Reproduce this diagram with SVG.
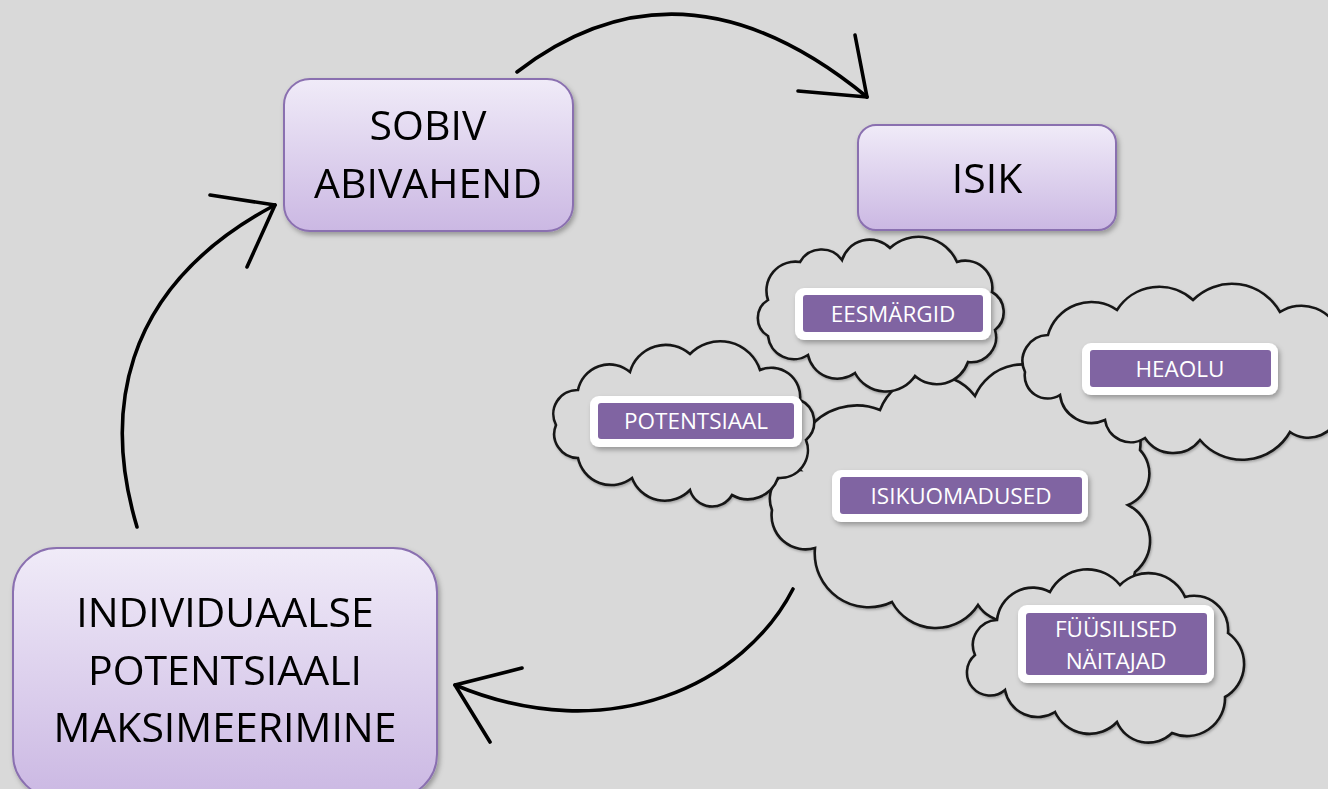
<svg xmlns="http://www.w3.org/2000/svg" width="1328" height="789" viewBox="0 0 1328 789">
<defs>
<linearGradient id="boxg" x1="0" y1="0" x2="0" y2="1">
<stop offset="0" stop-color="#f0ebf8"/>
<stop offset="1" stop-color="#cbb8e3"/>
</linearGradient>
<filter id="sh" x="-10%" y="-10%" width="130%" height="130%">
<feDropShadow dx="2" dy="3" stdDeviation="2.5" flood-color="#000" flood-opacity="0.3"/>
</filter>
<filter id="csh" x="-5%" y="-5%" width="110%" height="110%">
<feDropShadow dx="1" dy="1.5" stdDeviation="1.2" flood-color="#000" flood-opacity="0.25"/>
</filter>
</defs>
<style>
.box{fill:url(#boxg);stroke:#8a6fb0;stroke-width:2}
.big{font-family:"Open Sans","Noto Sans",sans-serif;font-size:41px;fill:#000;text-anchor:middle}
.cloud{fill:#d9d9d9;stroke:#161616;stroke-width:2.6;stroke-linejoin:miter}
.lw{fill:#fff}
.lp{fill:#8064a2}
.lt{font-family:"Open Sans","Noto Sans",sans-serif;font-size:22.5px;fill:#fff;text-anchor:middle}
.arr{fill:none;stroke:#000;stroke-width:3.6;stroke-linecap:round;stroke-linejoin:round}
</style>
<rect width="1328" height="789" fill="#d9d9d9"/>

<g id="clouds" filter="url(#csh)">
<path id="cloud-central" class="cloud" d="M800,470 A23,23 0 0 1 806,432 A62,62 0 0 1 880,410 A55,55 0 0 1 975,396 A52,52 0 0 1 1060,380 A64,64 0 0 1 1140,450 A34,34 0 0 1 1128,505 A40,40 0 0 1 1135,572 A27,27 0 0 1 1095,592 A34,34 0 0 1 1040,605 A37,37 0 0 1 978,605 A50,50 0 0 1 892,602 A54,54 0 0 1 815,548 A34,34 0 0 1 772,510 A29,29 0 0 1 800,470 Z"/>
<path id="cloud-eesmargid" class="cloud" d="M768,300 A29,29 0 0 1 800,262 A25,25 0 0 1 842,260 A29,29 0 0 1 890,248 A42,42 0 0 1 957,262 A27,27 0 0 1 992,292 A23,23 0 0 1 995,330 A25,25 0 0 1 968,362 A33,33 0 0 1 915,376 A35,35 0 0 1 855,373 A30,30 0 0 1 808,355 A26,26 0 0 1 768,336 A21,21 0 0 1 768,300 Z"/>
<path id="cloud-potentsiaal" class="cloud" d="M556,425 A24,24 0 0 1 578,390 A32,32 0 0 1 630,372 A37,37 0 0 1 690,354 A42,42 0 0 1 760,370 A29,29 0 0 1 800,400 A24,24 0 0 1 806,440 A28,28 0 0 1 778,478 A32,32 0 0 1 732,495 A23,23 0 0 1 690,490 A35,35 0 0 1 632,478 A34,34 0 0 1 578,458 A24,24 0 0 1 556,425 Z"/>
<path id="cloud-heaolu" class="cloud" d="M1025,372 A26,26 0 0 1 1048,335 A45,45 0 0 1 1117,310 A50,50 0 0 1 1193,300 A55,55 0 0 1 1280,312 A40,40 0 0 1 1340,335 A45,45 0 0 1 1340,410 A32,32 0 0 1 1290,432 A55,55 0 0 1 1200,440 A34,34 0 0 1 1145,438 A26,26 0 0 1 1105,420 A32,32 0 0 1 1060,395 A23,23 0 0 1 1025,372 Z"/>
<path id="cloud-fuusilised" class="cloud" d="M975,655 A25,25 0 0 1 997,620 A36,36 0 0 1 1050,592 A42,42 0 0 1 1120,585 A40,40 0 0 1 1185,597 A34,34 0 0 1 1228,633 A38,38 0 0 1 1225,697 A38,38 0 0 1 1172,733 A34,34 0 0 1 1117,722 A38,38 0 0 1 1055,712 A33,33 0 0 1 1005,690 A22,22 0 0 1 975,655 Z"/>
</g>

<g id="connectors">
<path class="arr" d="M517,72 Q682,-55 867,97"/>
<polyline class="arr" points="855,35 867,97 798,91"/>
<path class="arr" d="M137,527 C105,420 115,290 275,205"/>
<polyline class="arr" points="210,195 275,205 247,267"/>
<path class="arr" d="M793,589 C745,683 610,750 455,685"/>
<polyline class="arr" points="522,668 455,685 490,742"/>
</g>

<g id="node-sobiv" filter="url(#sh)">
<rect class="box" x="284" y="79" width="289" height="152" rx="26"/>
<text class="big" x="428" y="140">SOBIV</text>
<text class="big" x="428" y="198">ABIVAHEND</text>
</g>
<g id="node-isik" filter="url(#sh)">
<rect class="box" x="858" y="125" width="258" height="105" rx="18"/>
<text class="big" x="987" y="193">ISIK</text>
</g>
<g id="node-individuaalse" filter="url(#sh)">
<rect class="box" x="13" y="548" width="424" height="250" rx="44"/>
<text class="big" x="225" y="627">INDIVIDUAALSE</text>
<text class="big" x="225" y="685">POTENTSIAALI</text>
<text class="big" x="225" y="742">MAKSIMEERIMINE</text>
</g>

<g id="label-eesmargid">
<rect class="lw" x="795" y="288" width="196" height="52" rx="9" filter="url(#sh)"/>
<rect class="lp" x="803" y="295" width="180" height="37" rx="3"/>
<text class="lt" x="893" y="321.5">EESMÄRGID</text>
</g>
<g id="label-potentsiaal">
<rect class="lw" x="590" y="396" width="212" height="51" rx="9" filter="url(#sh)"/>
<rect class="lp" x="598" y="403" width="196" height="36" rx="3"/>
<text class="lt" x="696" y="429">POTENTSIAAL</text>
</g>
<g id="label-heaolu">
<rect class="lw" x="1082" y="343" width="196" height="52" rx="9" filter="url(#sh)"/>
<rect class="lp" x="1090" y="350" width="181" height="37" rx="3"/>
<text class="lt" x="1180" y="376.5">HEAOLU</text>
</g>
<g id="label-isikuomadused">
<rect class="lw" x="832" y="470" width="256" height="52" rx="9" filter="url(#sh)"/>
<rect class="lp" x="840" y="477" width="242" height="37" rx="3"/>
<text class="lt" x="961" y="503.5">ISIKUOMADUSED</text>
</g>
<g id="label-fuusilised">
<rect class="lw" x="1018" y="605" width="196" height="78" rx="9" filter="url(#sh)"/>
<rect class="lp" x="1026" y="613" width="181" height="62" rx="3"/>
<text class="lt" x="1116" y="637">FÜÜSILISED</text>
<text class="lt" x="1116" y="669">NÄITAJAD</text>
</g>
</svg>
